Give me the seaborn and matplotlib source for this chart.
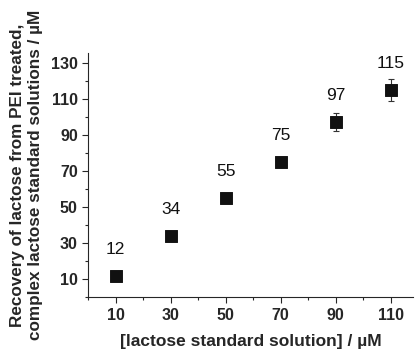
import numpy as np
import pandas as pd
import matplotlib
matplotlib.use("Agg")
import matplotlib.pyplot as plt
import seaborn as sns
from matplotlib.ticker import MultipleLocator

# data
standard_um = [10, 30, 50, 70, 90, 110]
recovered_um = [12, 34, 55, 75, 97, 115]
recovered_err = [1.0, 1.2, 2.0, 3.0, 5.0, 6.0]
point_labels = ["12", "34", "55", "75", "97", "115"]

df = pd.DataFrame({"standard": standard_um, "recovered": recovered_um})

sns.set_style("ticks")
plt.rcParams['font.family'] = ['Liberation Sans', 'DejaVu Sans']

fig = plt.figure(figsize=(4.16, 3.5), dpi=100)
ax = fig.add_axes([0.212, 0.151, 0.78, 0.698])

ax.errorbar(standard_um, recovered_um, yerr=recovered_err, fmt="none",
            ecolor="#333333", elinewidth=0.8, capsize=2.5, capthick=0.8, zorder=2)
sns.scatterplot(data=df, x="standard", y="recovered", marker="s", s=70,
                color="#111111", edgecolor="#111111", ax=ax, zorder=3, legend=False)

# value labels above each point
for x, y, lab in zip(standard_um, recovered_um, point_labels):
    ax.text(x, y + 10.5, lab, ha="center", va="bottom", fontsize=12.5, color="#111111")

ax.set_xlim(0, 118)
ax.set_ylim(0, 135.5)
ax.set_xticks([10, 30, 50, 70, 90, 110])
ax.set_yticks([10, 30, 50, 70, 90, 110, 130])
ax.xaxis.set_minor_locator(MultipleLocator(10))
ax.yaxis.set_minor_locator(MultipleLocator(10))
ax.tick_params(which="major", length=4, width=0.8, labelsize=11.5)
ax.tick_params(which="minor", length=2.5, width=0.8)
for lab in ax.get_xticklabels() + ax.get_yticklabels():
    lab.set_fontweight("bold")

sns.despine(ax=ax)
ax.spines["left"].set_linewidth(0.8)
ax.spines["bottom"].set_linewidth(0.8)

ax.set_xlabel("[lactose standard solution] / µM", fontsize=12.5, fontweight="bold", labelpad=8)
ax.set_ylabel("Recovery of lactose from PEI treated,\ncomplex lactose standard solutions / µM",
              fontsize=12.3, fontweight="bold", labelpad=6)

fig.savefig("out.png", dpi=100)
